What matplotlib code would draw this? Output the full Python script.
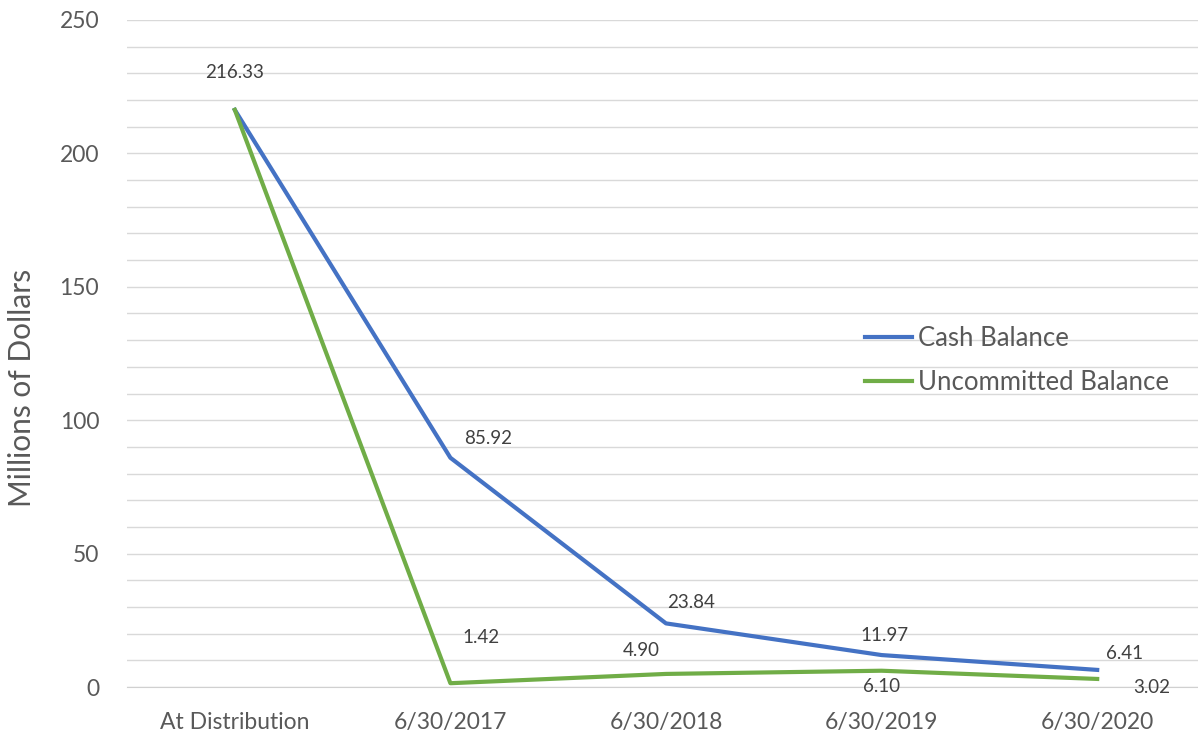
import matplotlib.pyplot as plt
import numpy as np

# data
categories = ["At Distribution", "6/30/2017", "6/30/2018", "6/30/2019", "6/30/2020"]
cash_balance = [216.33, 85.92, 23.84, 11.97, 6.41]
uncommitted_balance = [216.33, 1.42, 4.90, 6.10, 3.02]

blue = "#4472C4"
green = "#70AD47"
text_col = "#595959"

plt.rcParams['font.family'] = ['Lato', 'DejaVu Sans']

fig = plt.figure(figsize=(11.98, 7.34), dpi=100)
W, H = 1198, 734
ax = fig.add_axes([127 / W, (H - 687) / H, (1205 - 127) / W, (687 - 20) / H])

x = np.arange(len(categories))
ax.plot(x, cash_balance, color=blue, lw=3, label="Cash Balance", zorder=3,
        solid_joinstyle='round')
ax.plot(x, uncommitted_balance, color=green, lw=3, label="Uncommitted Balance",
        zorder=3, solid_joinstyle='round')

# data labels (offsets in points, placed like the original)
cash_offsets = [(0, 27), (27, 14), (18, 15), (2, 14), (20, 12)]
unc_offsets = [None, (22, 33), (-18, 17), (0, -11), (39, -6)]
for i, v in enumerate(cash_balance):
    dx, dy = cash_offsets[i]
    ax.annotate(f"{v:.2f}", (x[i], v), xytext=(dx, dy), textcoords='offset points',
                ha='center', va='center', fontsize=13.5, color="#404040")
for i, v in enumerate(uncommitted_balance):
    if unc_offsets[i] is None:
        continue
    dx, dy = unc_offsets[i]
    ax.annotate(f"{v:.2f}", (x[i], v), xytext=(dx, dy), textcoords='offset points',
                ha='center', va='center', fontsize=13.5, color="#404040")

ax.set_xlim(-0.5, len(categories) - 0.5)
ax.set_ylim(0, 250)
ax.set_xticks(x)
ax.set_xticklabels(categories)
ax.set_yticks(np.arange(0, 251, 50))
ax.set_yticks(np.arange(0, 251, 10), minor=True)
ax.grid(axis='y', which='both', color='#d9d9d9', lw=1, zorder=0)
ax.tick_params(axis='both', which='both', length=0, labelsize=16.5, colors=text_col)
ax.tick_params(axis='x', pad=18)
ax.tick_params(axis='y', pad=20)

for s in ['top', 'right', 'left']:
    ax.spines[s].set_visible(False)
ax.spines['bottom'].set_color('#d0d0d0')

ax.set_ylabel("Millions of Dollars", fontsize=21.5, color=text_col)
ax.yaxis.set_label_coords(-0.084, (687 - 388) / 667)

ax.legend(loc='center left', bbox_to_anchor=(0.685, 0.49), frameon=False,
          fontsize=18.5, labelcolor=text_col, handlelength=1.8, handletextpad=0.25,
          labelspacing=0.75, borderpad=0, borderaxespad=0)

fig.savefig("out.png", dpi=100)
